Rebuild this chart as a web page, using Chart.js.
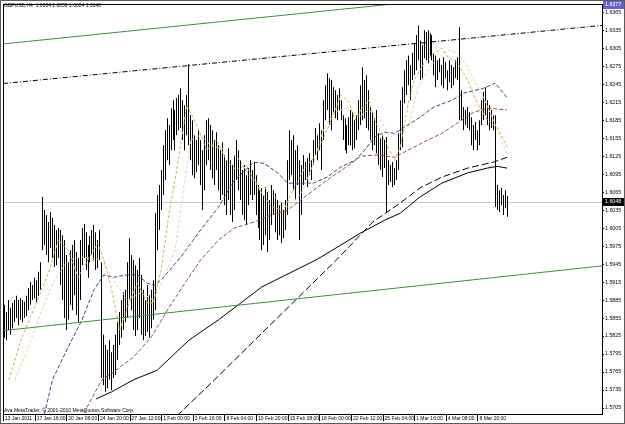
<!DOCTYPE html>
<html>
<head>
<meta charset="utf-8">
<title>GBPUSD,H4</title>
<script src="https://cdn.jsdelivr.net/npm/chart.js@4.4.1/dist/chart.umd.min.js"></script>
<style>
  html, body { margin: 0; padding: 0; background: #fff; }
  canvas { display: block; }
</style>
</head>
<body>
<canvas id="chart" width="625" height="424"></canvas>
<script>
// GBPUSD H4 bars, 13 Jan - 10 Mar 2011, one entry per bar
const highs = [
  1.5868, 1.5877, 1.5865, 1.5885, 1.5872, 1.5880, 1.5885, 1.5892, 1.5885, 1.5888,
  1.5885, 1.5882, 1.5892, 1.5905, 1.5915, 1.5910, 1.5922, 1.5918, 1.5932, 1.5948,
  1.6057, 1.6035, 1.6027, 1.6015, 1.6032, 1.6022, 1.6010, 1.6002, 1.6005, 1.6002,
  1.5993, 1.5985, 1.5960, 1.5948, 1.5968, 1.5977, 1.5985, 1.5965, 1.5955, 1.5985,
  1.6005, 1.6012, 1.5998, 1.5977, 1.5992, 1.6002, 1.6010, 1.5998, 1.5985, 1.6002,
  1.5948, 1.5827, 1.5810, 1.5802, 1.5818, 1.5798, 1.5810, 1.5827, 1.5848, 1.5865,
  1.5885, 1.5898, 1.5902, 1.5948, 1.5988, 1.5960, 1.5952, 1.5943, 1.5935, 1.5955,
  1.5927, 1.5902, 1.5885, 1.5910, 1.5893, 1.5902, 1.5918, 1.6030, 1.6060, 1.6077,
  1.6102, 1.6143, 1.6168, 1.6188, 1.6177, 1.6205, 1.6218, 1.6202, 1.6222, 1.6227,
  1.6238, 1.6218, 1.6210, 1.6227, 1.6278, 1.6193, 1.6185, 1.6160, 1.6152, 1.6168,
  1.6152, 1.6135, 1.6160, 1.6185, 1.6188, 1.6177, 1.6168, 1.6152, 1.6165, 1.6143,
  1.6135, 1.6148, 1.6127, 1.6118, 1.6138, 1.6118, 1.6110, 1.6127, 1.6152, 1.6135,
  1.6118, 1.6102, 1.6110, 1.6093, 1.6105, 1.6118, 1.6102, 1.6115, 1.6093, 1.6077,
  1.6068, 1.6072, 1.6060, 1.6073, 1.6065, 1.6052, 1.6077, 1.6068, 1.6063, 1.6052,
  1.6043, 1.6048, 1.6035, 1.6052, 1.6118, 1.6168, 1.6152, 1.6160, 1.6135, 1.6143,
  1.6118, 1.6110, 1.6127, 1.6115, 1.6122, 1.6130, 1.6118, 1.6152, 1.6172, 1.6160,
  1.6180, 1.6168, 1.6218, 1.6243, 1.6263, 1.6255, 1.6252, 1.6240, 1.6235, 1.6227,
  1.6238, 1.6218, 1.6193, 1.6188, 1.6177, 1.6190, 1.6202, 1.6198, 1.6185, 1.6193,
  1.6218, 1.6243, 1.6273, 1.6252, 1.6260, 1.6235, 1.6207, 1.6198, 1.6188, 1.6202,
  1.6163, 1.6155, 1.6160, 1.6152, 1.6157, 1.6118, 1.6110, 1.6115, 1.6105, 1.6118,
  1.6163, 1.6218, 1.6240, 1.6268, 1.6285, 1.6293, 1.6277, 1.6297, 1.6313, 1.6327,
  1.6343, 1.6318, 1.6310, 1.6335, 1.6332, 1.6335, 1.6330, 1.6327, 1.6297, 1.6293,
  1.6285, 1.6288, 1.6277, 1.6290, 1.6282, 1.6268, 1.6285, 1.6277, 1.6273, 1.6285,
  1.6290, 1.6340, 1.6235, 1.6207, 1.6202, 1.6207, 1.6198, 1.6190, 1.6177, 1.6182,
  1.6168, 1.6185, 1.6218, 1.6232, 1.6240, 1.6218, 1.6210, 1.6202, 1.6193, 1.6193,
  1.6077, 1.6068, 1.6072, 1.6060, 1.6068, 1.6059
];
const lows = [
  1.5810, 1.5822, 1.5818, 1.5835, 1.5827, 1.5838, 1.5848, 1.5855, 1.5843, 1.5852,
  1.5848, 1.5855, 1.5858, 1.5868, 1.5877, 1.5885, 1.5888, 1.5880, 1.5892, 1.5902,
  1.5968, 1.5977, 1.5960, 1.5948, 1.5972, 1.5955, 1.5940, 1.5943, 1.5955, 1.5910,
  1.5885, 1.5855, 1.5835, 1.5852, 1.5877, 1.5868, 1.5893, 1.5860, 1.5848, 1.5885,
  1.5943, 1.5955, 1.5935, 1.5922, 1.5948, 1.5960, 1.5952, 1.5935, 1.5938, 1.5952,
  1.5755, 1.5743, 1.5732, 1.5738, 1.5752, 1.5735, 1.5755, 1.5760, 1.5785, 1.5810,
  1.5822, 1.5835, 1.5848, 1.5855, 1.5885, 1.5868, 1.5835, 1.5825, 1.5835, 1.5855,
  1.5827, 1.5818, 1.5825, 1.5832, 1.5822, 1.5838, 1.5852, 1.5868, 1.5968, 1.6002,
  1.6035, 1.6060, 1.6085, 1.6118, 1.6110, 1.6135, 1.6152, 1.6135, 1.6160, 1.6168,
  1.6172, 1.6152, 1.6135, 1.6160, 1.6143, 1.6118, 1.6093, 1.6088, 1.6098, 1.6110,
  1.6077, 1.6035, 1.6068, 1.6110, 1.6118, 1.6102, 1.6088, 1.6077, 1.6102, 1.6068,
  1.6052, 1.6060, 1.6043, 1.6027, 1.6052, 1.6027, 1.6015, 1.6035, 1.6085, 1.6068,
  1.6052, 1.6027, 1.6018, 1.6010, 1.6043, 1.6060, 1.6052, 1.6060, 1.6027, 1.6005,
  1.5985, 1.5968, 1.5977, 1.5993, 1.5965, 1.5985, 1.6010, 1.6027, 1.5998, 1.5985,
  1.5993, 1.5980, 1.5988, 1.6002, 1.6027, 1.6085, 1.6093, 1.6068, 1.6052, 1.6077,
  1.5985, 1.6027, 1.6077, 1.6085, 1.6073, 1.6093, 1.6085, 1.6110, 1.6127, 1.6118,
  1.6135, 1.6102, 1.6152, 1.6185, 1.6202, 1.6177, 1.6168, 1.6198, 1.6188, 1.6185,
  1.6202, 1.6185, 1.6152, 1.6135, 1.6130, 1.6143, 1.6143, 1.6135, 1.6138, 1.6152,
  1.6168, 1.6177, 1.6185, 1.6188, 1.6172, 1.6168, 1.6152, 1.6135, 1.6143, 1.6130,
  1.6110, 1.6102, 1.6090, 1.6105, 1.6030, 1.6077, 1.6082, 1.6073, 1.6077, 1.6085,
  1.6102, 1.6135, 1.6140, 1.6213, 1.6227, 1.6243, 1.6218, 1.6252, 1.6260, 1.6268,
  1.6285, 1.6252, 1.6255, 1.6288, 1.6285, 1.6280, 1.6293, 1.6285, 1.6260, 1.6240,
  1.6252, 1.6265, 1.6243, 1.6238, 1.6255, 1.6235, 1.6248, 1.6238, 1.6243, 1.6255,
  1.6252, 1.6185, 1.6185, 1.6168, 1.6177, 1.6172, 1.6168, 1.6143, 1.6135, 1.6152,
  1.6135, 1.6143, 1.6177, 1.6185, 1.6193, 1.6177, 1.6168, 1.6172, 1.6168, 1.6040,
  1.6035, 1.6032, 1.6043, 1.6027, 1.6038, 1.6024
];
const lastBar = [1.6034, 1.6059, 1.6024, 1.6048];   // open high low close
const scaleTop = 1.6377;
const scaleBottom = 1.5695;

const timeLabels = ["13 Jan 2011", "17 Jan 16:00", "20 Jan 08:00", "24 Jan 20:00", "27 Jan 12:00",
  "1 Feb 00:00", "3 Feb 16:00", "8 Feb 04:00", "10 Feb 20:00", "15 Feb 08:00", "18 Feb 00:00",
  "22 Feb 12:00", "25 Feb 04:00", "1 Mar 16:00", "4 Mar 08:00", "8 Mar 20:00"];
const timeLabelBars = [0, 16, 32, 48, 64, 80, 96, 112, 128, 144, 160, 176, 192, 208, 224, 240];
const priceTicks = [1.6365, 1.6335, 1.6305, 1.6275, 1.6245, 1.6215, 1.6185, 1.6155, 1.6125, 1.6095,
  1.6065, 1.6035, 1.6005, 1.5975, 1.5945, 1.5915, 1.5885, 1.5855, 1.5825, 1.5795, 1.5765, 1.5735, 1.5705];

// moving averages: bar index + value
const maFastAt = [3, 9, 16, 23, 28, 33, 38, 43, 48, 51, 55, 59, 63, 68, 73, 76, 80, 84, 87, 93,
  98, 103, 108, 113, 118, 123, 125, 131, 136, 142, 146, 152, 159, 166, 171, 175, 178, 181, 185, 188,
  193, 198, 201, 205, 208, 213, 218, 222, 225, 230, 235, 240, 245, 250, 255];
const maFast = [1.5752, 1.5818, 1.5873, 1.5930, 1.5985, 1.5968, 1.5923, 1.5952, 1.5980, 1.5952,
  1.5902, 1.5835, 1.5873, 1.5913, 1.5880, 1.5880, 1.5935, 1.6030, 1.6085, 1.6210,
  1.6177, 1.6135, 1.6152, 1.6118, 1.6102, 1.6110, 1.6097, 1.6063, 1.6040, 1.6035,
  1.6063, 1.6102, 1.6130, 1.6185, 1.6227, 1.6215, 1.6185, 1.6202, 1.6218, 1.6185,
  1.6152, 1.6118, 1.6140, 1.6213, 1.6252, 1.6280, 1.6297, 1.6305, 1.6290, 1.6280,
  1.6252, 1.6213, 1.6185, 1.6173, 1.6140];
const maPaleAt = [6, 13, 19, 26, 33, 40, 50, 56, 63, 70, 76, 81, 87, 92, 95, 100, 105, 113, 120, 125,
  132, 139, 144, 151, 157, 162, 167, 175, 180, 185, 190, 196, 200, 205, 210, 215, 220, 225, 230, 235,
  242, 248, 255];
const maPale = [1.5752, 1.5807, 1.5863, 1.5918, 1.5952, 1.5957, 1.5952, 1.5918, 1.5885, 1.5897,
  1.5885, 1.5918, 1.5968, 1.6085, 1.6152, 1.6160, 1.6143, 1.6135, 1.6118, 1.6090,
  1.6073, 1.6052, 1.6040, 1.6063, 1.6113, 1.6168, 1.6197, 1.6207, 1.6190, 1.6202,
  1.6190, 1.6157, 1.6163, 1.6173, 1.6240, 1.6268, 1.6290, 1.6302, 1.6297, 1.6273,
  1.6230, 1.6185, 1.6127];
const maNavyAt = [21, 25, 33, 40, 46, 51, 56, 63, 68, 73, 77, 81, 90, 100, 109, 117, 127, 132, 139, 144,
  151, 157, 164, 171, 178, 183, 188, 193, 198, 203, 211, 218, 227, 233, 243, 249, 255];
const maNavy = [1.5695, 1.5752, 1.5807, 1.5852, 1.5902, 1.5927, 1.5923, 1.5927, 1.5927, 1.5913,
  1.5910, 1.5922, 1.5957, 1.6002, 1.6040, 1.6085, 1.6115, 1.6113, 1.6097, 1.6080,
  1.6080, 1.6080, 1.6090, 1.6107, 1.6118, 1.6135, 1.6157, 1.6165, 1.6163, 1.6173,
  1.6190, 1.6207, 1.6218, 1.6230, 1.6238, 1.6247, 1.6222];
const maMaroonAt = [41, 50, 55, 66, 75, 84, 92, 100, 109, 117, 127, 136, 144, 157, 166, 175, 181, 190,
  198, 205, 215, 222, 232, 238, 245, 255];
const maMaroon = [1.5697, 1.5752, 1.5763, 1.5790, 1.5823, 1.5873, 1.5913, 1.5952, 1.5985, 1.6005,
  1.6015, 1.6027, 1.6035, 1.6068, 1.6090, 1.6110, 1.6125, 1.6127, 1.6123, 1.6135,
  1.6152, 1.6163, 1.6185, 1.6198, 1.6205, 1.6202];
const maSlowAt = [47, 55, 66, 78, 94, 109, 131, 159, 181, 193, 201, 211, 222, 235, 245, 250, 255];
const maSlow = [1.5720, 1.5732, 1.5752, 1.5768, 1.5818, 1.5852, 1.5907, 1.5953, 1.5997, 1.6018,
  1.6030, 1.6057, 1.6080, 1.6097, 1.6105, 1.6108, 1.6105];
const maSlowDashAt = [88, 107, 131, 169, 187, 201, 211, 222, 235, 248, 255];
const maSlowDash = [1.5692, 1.5752, 1.5830, 1.5953, 1.6015, 1.6047, 1.6072, 1.6090, 1.6105, 1.6115, 1.6123];

// hand drawn lines, two anchor points each [bar, price]
const greenUpper = [[0, 1.6312], [210, 1.6383]];
const greenLower = [[0, 1.5834], [303, 1.5942]];
const dotLine = [[0, 1.6246], [303, 1.6343]];

const FONT = "'Liberation Sans', Arial, sans-serif";

const pairs = (at, vals) => at.map((x, k) => ({ x: x, y: vals[k] }));
const seg = (p) => p.map(q => ({ x: q[0], y: q[1] }));

function lineSet(data, color, dash) {
  return {
    type: 'line', data: data, borderColor: color, borderWidth: 1,
    borderDash: dash || [], pointRadius: 0, tension: 0, fill: false, order: 0
  };
}

const mtDecor = {
  id: 'mtDecor',
  beforeDatasetsDraw(chart) {
    const { ctx, chartArea: a, scales: { y } } = chart;
    // snap the 1px bars onto whole pixel columns, like the terminal does
    chart.getSortedVisibleDatasetMetas().forEach(m => {
      if (m.type === 'bar') m.data.forEach(el => { el.x = Math.floor(el.x) + 0.5; });
    });
    const py = Math.round(y.getPixelForValue(lastBar[3])) + 0.5;
    ctx.save();
    ctx.strokeStyle = '#c8c8c8';
    ctx.lineWidth = 1;
    ctx.beginPath();
    ctx.moveTo(a.left, py);
    ctx.lineTo(a.right, py);
    ctx.stroke();
    ctx.restore();
  },
  afterDraw(chart) {
    const { ctx, chartArea: a, scales: { x, y } } = chart;
    ctx.save();
    // chart frame
    ctx.strokeStyle = '#000';
    ctx.lineWidth = 1;
    ctx.strokeRect(a.left + 0.5, a.top - 0.5, a.right - a.left, a.bottom - a.top + 1);
    // date tick marks
    ctx.beginPath();
    timeLabelBars.forEach(b => {
      const px = Math.round(x.getPixelForValue(b)) + 0.5;
      ctx.moveTo(px, a.bottom);
      ctx.lineTo(px, a.bottom + 7);
    });
    ctx.stroke();

    ctx.font = '5px ' + FONT;
    ctx.fillStyle = '#000';
    ctx.textBaseline = 'top';
    ctx.textAlign = 'left';
    ctx.fillText('GBPUSD,H4  ' + lastBar.map(v => v.toFixed(4)).join(' '), a.left + 1, a.top - 2);
    ctx.textBaseline = 'bottom';
    ctx.fillText('Ava MetaTrader, \u00a9 2001-2010 MetaQuotes Software Corp.', a.left + 1, a.bottom - 1);

    // price boxes on the axis
    const box = (val, bg) => {
      const py = y.getPixelForValue(val);
      const top = Math.max(0, Math.round(py) - 4);
      ctx.fillStyle = bg;
      ctx.fillRect(a.right + 1, top, 21, 8);
      ctx.fillStyle = '#fff';
      ctx.font = '5.3px ' + FONT;
      ctx.textBaseline = 'middle';
      ctx.fillText(val.toFixed(4), a.right + 3, top + 4);
    };
    box(lastBar[3], '#000');
    box(scaleTop, '#6464c8');

    // window border
    ctx.strokeStyle = '#5a5a5a';
    ctx.strokeRect(0.5, 0.5, chart.width - 1, chart.height - 1);
    ctx.restore();
  }
};

const bars = highs.map((h, k) => ({ x: k, y: [lows[k], h] }));

new Chart(document.getElementById('chart'), {
  type: 'bar',
  data: {
    datasets: [
      lineSet(seg(greenUpper), '#3f8f3f'),
      lineSet(seg(greenLower), '#3f8f3f'),
      lineSet(seg(dotLine), '#000', [5, 2, 1, 2]),
      lineSet(pairs(maFastAt, maFast), '#d2b048', [3, 2]),
      lineSet(pairs(maPaleAt, maPale), '#e6d49c', [3, 2]),
      lineSet(pairs(maNavyAt, maNavy), '#404088', [4, 2]),
      lineSet(pairs(maMaroonAt, maMaroon), '#a04c4c', [4, 2]),
      lineSet(pairs(maSlowAt, maSlow), '#000'),
      lineSet(pairs(maSlowDashAt, maSlowDash), '#000', [7, 3]),
      {
        type: 'bar', data: bars, backgroundColor: '#000', borderWidth: 0,
        barThickness: 1, inflateAmount: 0, grouped: false, order: 1
      }
    ]
  },
  options: {
    responsive: false,
    animation: false,
    devicePixelRatio: 1,
    layout: { padding: { left: 3, top: 5, right: 0, bottom: 0 } },
    plugins: { legend: { display: false }, tooltip: { enabled: false } },
    scales: {
      x: {
        type: 'linear', position: 'bottom', min: 0, max: 303, offset: false,
        afterBuildTicks: s => { s.ticks = timeLabelBars.map(v => ({ value: v })); },
        afterFit: s => { s.height = 10; s.paddingLeft = 0; s.paddingRight = 0; },
        grid: { drawOnChartArea: false, drawTicks: false, offset: false },
        border: { color: '#000' },
        ticks: {
          callback: (v, i) => timeLabels[i], autoSkip: false, maxRotation: 0,
          align: 'start', labelOffset: 2, padding: 2, color: '#000',
          font: { size: 5, family: FONT }
        }
      },
      y: {
        type: 'linear', position: 'right', min: scaleBottom, max: scaleTop,
        afterBuildTicks: s => { s.ticks = priceTicks.map(v => ({ value: v })); },
        afterFit: s => { s.width = 23; s.paddingTop = 0; s.paddingBottom = 0; },
        grid: { drawOnChartArea: false, tickLength: 2, color: '#000' },
        border: { color: '#000' },
        ticks: {
          callback: v => v.toFixed(4), padding: 1, color: '#000',
          font: { size: 5.3, family: FONT }
        }
      }
    }
  },
  plugins: [mtDecor]
});
</script>
</body>
</html>
